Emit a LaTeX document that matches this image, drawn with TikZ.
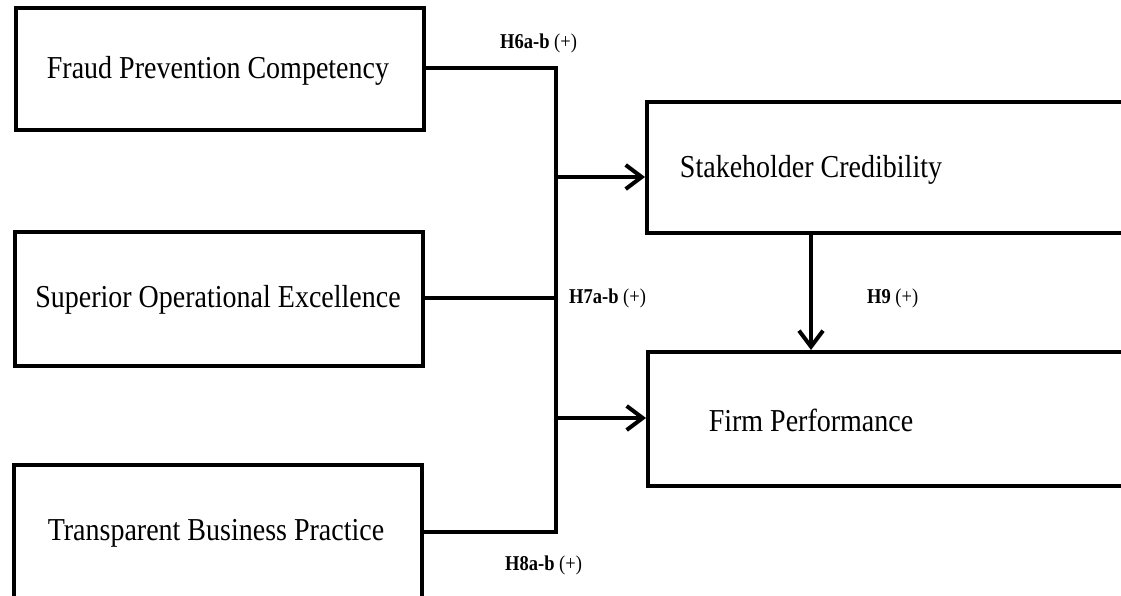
\documentclass[tikz,border=0pt]{standalone}
\usepackage{fontspec}
\setmainfont{Liberation Serif}
\usepackage{tikz}
\usetikzlibrary{positioning,arrows.meta}
\newcommand{\tall}[1]{\scalebox{1}[1.14]{#1}}
\tikzset{
  lbox/.style={draw, line width=4pt, minimum width=408pt, inner sep=0pt},
  rbox/.style={draw, line width=4pt, minimum width=500pt, inner sep=0pt},
  boxtxt/.style={font=\fontsize{28}{32}\selectfont, inner sep=0pt},
  hyp/.style={font=\fontsize{18.5}{22}\selectfont, anchor=west, inner sep=0pt},
  link/.style={line width=4pt},
  path/.style={line width=4pt, -{Straight Barb[length=16pt,width=24pt]}}
}
\begin{document}
\begin{tikzpicture}[x=1pt,y=-1pt]
\useasboundingbox (0,0) rectangle (1121,596);
\clip (0,0) rectangle (1121,596);
% left constructs
\node[lbox, minimum height=122pt] (fpc) at (219.5,69) {};
\node[boxtxt] (fpctxt) at (218,71) {\tall{Fraud Prevention Competency}};
\node[lbox, minimum height=134pt] (soe) at (218.5,299) {};
\node[boxtxt] (soetxt) at (218,300) {\tall{Superior Operational Excellence}};
\node[lbox, minimum height=140pt] (tbp) at (217.5,535) {};
\node[boxtxt] (tbptxt) at (216,533) {\tall{Transparent Business Practice}};
% right constructs
\node[rbox, minimum height=131pt] (sc) at (897,167.5) {};
\node[boxtxt] (sctxt) at (811,170) {\tall{Stakeholder Credibility}};
\node[rbox, minimum height=134pt] (fp) at (898,419) {};
\node[boxtxt] (fptxt) at (811,420) {\tall{Firm Performance}};
% bus
\coordinate (top) at (556,68);
\coordinate (bot) at (556,532);
\draw[link] (fpc.east |- top) -- (top) -- (bot) -- (tbp.east |- bot);
\draw[link] (soe.east |- 0,298) -- (556,298);
\draw[path] (556,177) -- (sc.west |- 0,177);
\draw[path] (556,418) -- (fp.west |- 0,418);
\draw[path] (sc.south -| sctxt) -- (fp.north -| sctxt);
% hypotheses
\node[hyp] (h6) at (500,43) {\tall{\textbf{H6a-b} (+)}};
\node[hyp] (h7) at (569,298) {\tall{\textbf{H7a-b} (+)}};
\node[hyp] (h9) at (867,298) {\tall{\textbf{H9} (+)}};
\node[hyp] (h8) at (505,565) {\tall{\textbf{H8a-b} (+)}};
\end{tikzpicture}
\end{document}
